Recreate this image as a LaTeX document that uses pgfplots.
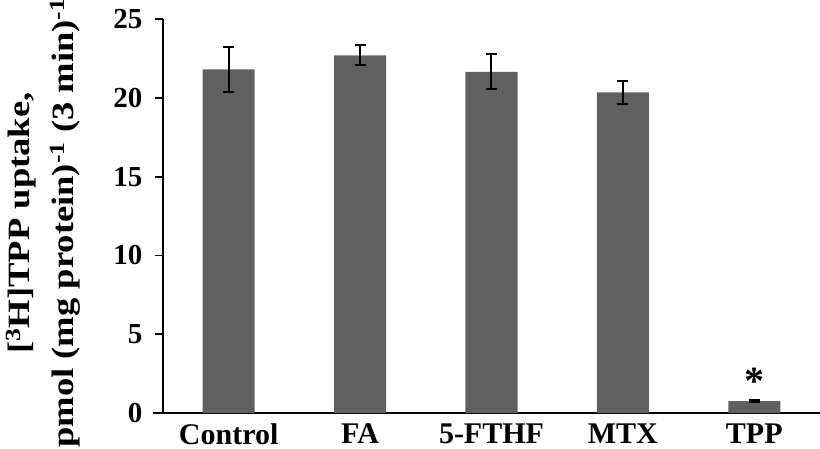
\documentclass[border=0pt]{standalone}
\usepackage{fontspec}
\setmainfont{Liberation Serif}
\newfontfamily\ylfont[FakeStretch=1.18]{Liberation Serif}
\usepackage{pgfplots}
\pgfplotsset{compat=1.18}
\definecolor{bargray}{HTML}{606060}
\begin{document}
\begin{tikzpicture}
\begin{axis}[
  scale only axis, width=657pt, height=394pt,
  xmin=-0.5, xmax=4.5, ymin=0, ymax=25,
  axis x line=bottom, axis y line=left,
  axis line style={-, line width=1.8pt, black},
  x axis line style={shorten <=-10pt},
  xtick={0,1,2,3,4}, xticklabels={Control,FA,5-FTHF,MTX,TPP},
  xtick style={draw=none},
  ytick={0,5,10,15,20,25},
  ytick style={line width=1.8pt, black},
  tick align=outside, major tick length=8pt,
  yticklabel style={font=\fontsize{29}{30}\selectfont\bfseries, xshift=-9pt},
  xticklabel style={font=\fontsize{30}{30}\selectfont\bfseries, yshift=1pt},
  /pgf/number format/assume math mode=true,
  clip=false,
]
\addplot[ybar, bar width=52pt, fill=bargray, draw=none,
  error bars/.cd, y dir=both, y explicit,
  error bar style={line width=2pt, black},
  error mark options={rotate=90, mark size=5.5pt, line width=2pt, black}]
  table[x=x, y=y, y error=e] {
x y e
0 21.8 1.42
1 22.7 0.65
2 21.65 1.1
3 20.35 0.72
4 0.76 0.05
};
\node[anchor=base, font=\fontsize{40}{40}\selectfont\bfseries] at (axis cs:4,1.2) {*};
\end{axis}
\node[rotate=90, align=center, anchor=center, inner sep=0pt, font={\fontsize{31}{44}\ylfont\bfseries}] at (-120pt,190pt)
  {[\textsuperscript{3}H]TPP uptake,\\pmol (mg protein)\textsuperscript{-1} (3 min)\textsuperscript{-1}};
\pgfresetboundingbox
\path[use as bounding box] (-163pt,-35pt) rectangle (657pt,413pt);
\end{tikzpicture}
\end{document}
